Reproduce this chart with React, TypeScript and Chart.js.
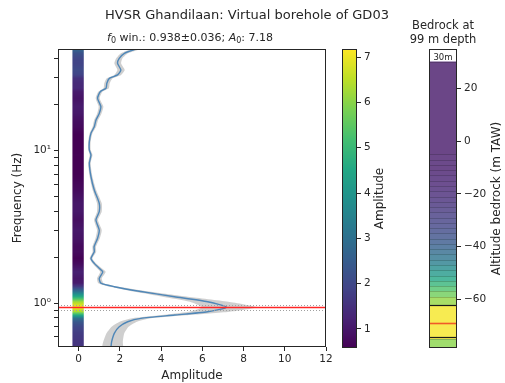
import { useEffect, useRef } from 'react';
import { Chart, registerables } from 'chart.js';

Chart.register(...registerables);

const FONT = "'DejaVu Sans', 'Liberation Sans', sans-serif";
const INK = '#262626';

// Mean HVSR curve (frequency ascending) and its multiplicative spread
const freqHz = [0.515, 0.557, 0.633, 0.699, 0.754, 0.794, 0.834, 0.877, 0.938, 1.02, 1.10, 1.19, 1.28, 1.35, 1.45, 1.60, 1.69, 1.82, 1.96, 2.17, 2.34, 2.66, 3.01, 3.50, 3.97, 4.51, 5.51, 6.73, 8.24, 9.34, 10.1, 11.4, 13.0, 14.3, 15.8, 17.5, 19.4, 22.0, 24.3, 25.6, 27.6, 29.7, 31.3, 33.7, 37.3, 40.2, 43.4, 46.3];
const ampMean = [1.57, 1.60, 1.73, 1.97, 2.38, 3.02, 4.65, 6.26, 7.18, 6.26, 4.65, 3.02, 1.73, 1.08, 1.00, 1.17, 1.00, 0.76, 0.60, 0.76, 0.75, 0.92, 1.00, 0.84, 1.00, 1.00, 0.76, 0.60, 0.52, 0.60, 0.52, 0.52, 0.60, 0.76, 0.84, 1.00, 1.08, 0.92, 1.05, 1.33, 1.37, 1.49, 1.89, 2.05, 1.89, 1.97, 2.22, 2.78];
const ampSigma = [1.38, 1.34, 1.28, 1.23, 1.19, 1.16, 1.15, 1.17, 1.20, 1.16, 1.14, 1.13, 1.13, 1.13, 1.12, 1.12, 1.12, 1.12, 1.12, 1.12, 1.12, 1.12, 1.12, 1.12, 1.12, 1.12, 1.12, 1.12, 1.12, 1.12, 1.12, 1.12, 1.12, 1.12, 1.12, 1.11, 1.11, 1.11, 1.10, 1.10, 1.10, 1.10, 1.09, 1.09, 1.09, 1.08, 1.08, 1.08];

const f0Win = 0.938;
const f0WinStd = 0.036;
const a0 = 7.18;

const freqMin = 0.515;
const freqMax = 46.3;
const freqTicks = [0.6, 0.7, 0.8, 0.9, 1, 2, 3, 4, 5, 6, 7, 8, 9, 10, 20, 30, 40];
const ampTicks = [0, 2, 4, 6, 8, 10, 12];
const colorTicks = [1, 2, 3, 4, 5, 6, 7];
const ampColorMin = 0.58;
const ampColorMax = 7.18;

// Virtual borehole: layer tops (m TAW) and the amplitude that colours each layer
const groundAlt = 30;
const bedrockDepth = 99;
const bedrockDepthMin = 92;
const bedrockDepthMax = 104.5;
const boreholeBottom = -78.5;
const altTop = 35;
const altTicks = [20, 0, -20, -40, -60];
const layerTop = [30, -5, -7, -9, -11, -13, -15, -17, -19, -21, -23, -25, -27, -29, -31, -33, -35, -37, -39, -41, -43, -45, -47, -49, -51, -53, -55, -57, -59, -62, -75];
const layerAmp = [1.0, 1.05, 1.1, 1.08, 1.12, 1.18, 1.22, 1.28, 1.35, 1.42, 1.5, 1.6, 1.7, 1.8, 1.9, 2.05, 2.2, 2.4, 2.6, 2.85, 3.1, 3.4, 3.75, 4.1, 4.5, 4.9, 5.3, 5.7, 6.1, 7.1, 6.0];

const VIRIDIS = [
  [68, 1, 84], [72, 36, 117], [65, 68, 135], [53, 95, 141], [42, 120, 142], [33, 145, 140],
  [34, 168, 132], [68, 191, 112], [122, 209, 81], [189, 223, 38], [253, 231, 37],
];

// viridis colour, optionally washed towards white (wash = opacity over a white page) and darkened
function viridis(t: number, wash = 1, shade = 0): string {
  const c = Math.min(1, Math.max(0, t)) * 10;
  const i = Math.min(9, Math.floor(c));
  const r = c - i;
  const a = VIRIDIS[i];
  const b = VIRIDIS[i + 1];
  const rgb = a.map((v, k) => {
    const base = v + (b[k] - v) * r;
    const washed = base * wash + 255 * (1 - wash);
    return Math.round(washed * (1 - shade));
  });
  return `rgb(${rgb[0]},${rgb[1]},${rgb[2]})`;
}

const ampColor = (amp: number, wash = 1, shade = 0) =>
  viridis((amp - ampColorMin) / (ampColorMax - ampColorMin), wash, shade);

function ampAt(f: number): number {
  if (f <= freqHz[0]) return ampMean[0];
  const n = freqHz.length;
  if (f >= freqHz[n - 1]) return ampMean[n - 1];
  const lf = Math.log10(f);
  for (let i = 0; i < n - 1; i++) {
    if (f <= freqHz[i + 1]) {
      const l0 = Math.log10(freqHz[i]);
      const l1 = Math.log10(freqHz[i + 1]);
      const r = (lf - l0) / (l1 - l0);
      return ampMean[i] + (ampMean[i + 1] - ampMean[i]) * r;
    }
  }
  return ampMean[n - 1];
}

const tickFont = { family: FONT, size: 10.5 };
const labelFont = { family: FONT, size: 12 };

function frame(chart: any, color = INK) {
  const { ctx, chartArea: a } = chart;
  ctx.save();
  ctx.strokeStyle = color;
  ctx.lineWidth = 1;
  ctx.strokeRect(Math.round(a.left) + 0.5, Math.round(a.top) + 0.5, Math.round(a.right - a.left) - 1, Math.round(a.bottom - a.top) - 1);
  ctx.restore();
}

function sideLabel(chart: any, text: string, x: number) {
  const { ctx, chartArea: a } = chart;
  ctx.save();
  ctx.translate(x, (a.top + a.bottom) / 2);
  ctx.rotate(-Math.PI / 2);
  ctx.fillStyle = INK;
  ctx.font = `12px ${FONT}`;
  ctx.textAlign = 'center';
  ctx.textBaseline = 'middle';
  ctx.fillText(text, 0, 0);
  ctx.restore();
}

// horizontal rule across the plot area at a y-axis value
function hLine(chart: any, value: number, color: string, dash: number[] = [], width = 1) {
  const { ctx, chartArea: a, scales } = chart;
  const y = Math.round(scales.y.getPixelForValue(value));
  ctx.save();
  ctx.fillStyle = color;
  if (dash.length === 0) {
    ctx.fillRect(a.left, y - width / 2 + 0.5, a.right - a.left, width);
  } else {
    const [on, off] = dash;
    for (let x = a.left; x < a.right; x += on + off) {
      ctx.fillRect(x, y, Math.min(on, a.right - x), 1);
    }
  }
  ctx.restore();
}

export default function App() {
  const mainRef = useRef<HTMLCanvasElement>(null);
  const cbarRef = useRef<HTMLCanvasElement>(null);
  const boreRef = useRef<HTMLCanvasElement>(null);

  useEffect(() => {
    Chart.defaults.font.family = FONT;
    Chart.defaults.color = INK;

    const curve = freqHz.map((f, i) => ({ x: ampMean[i], y: f }));
    const band = [
      ...freqHz.map((f, i) => ({ x: ampMean[i] * ampSigma[i], y: f })),
      ...freqHz.map((f, i) => ({ x: ampMean[i] / ampSigma[i], y: f })).reverse(),
    ];

    const hvsrPlugin = {
      id: 'hvsrDecor',
      beforeDatasetsDraw(chart: any) {
        const { ctx, chartArea: a, scales } = chart;
        const xl = scales.x.getPixelForValue(-0.3);
        const xr = scales.x.getPixelForValue(0.25);
        ctx.save();
        for (let py = Math.floor(a.top); py < a.bottom; py++) {
          const f = scales.y.getValueForPixel(py + 0.5);
          ctx.fillStyle = ampColor(ampAt(f));
          ctx.fillRect(xl, py, xr - xl, 1);
        }
        ctx.restore();
      },
      afterDraw(chart: any) {
        hLine(chart, f0Win - f0WinStd, '#a0a0a0', [1, 2]);
        hLine(chart, f0Win + f0WinStd, '#a0a0a0', [1, 2]);
        hLine(chart, f0Win, '#ff2626', [], 1.5);
        frame(chart);
      },
    };

    const main = new Chart(mainRef.current!, {
      type: 'scatter',
      data: {
        datasets: [
          {
            // mean curve, drawn on top
            data: curve,
            order: 0,
            showLine: true,
            fill: false,
            borderColor: '#4f87b8',
            borderWidth: 1.4,
            pointRadius: 0,
            tension: 0.2,
          },
          {
            // spread band
            data: band,
            order: 1,
            showLine: true,
            fill: 'shape',
            backgroundColor: 'rgba(160,160,160,0.5)',
            borderColor: 'rgba(0,0,0,0)',
            borderWidth: 0.01,
            pointRadius: 0,
            tension: 0.2,
          },
        ],
      },
      options: {
        responsive: false,
        animation: false,
        events: [],
        layout: { padding: { top: 49, right: 14, left: 0, bottom: 0 } },
        plugins: { legend: { display: false }, tooltip: { enabled: false }, title: { display: false } },
        scales: {
          x: {
            type: 'linear',
            min: -1,
            max: 12,
            afterBuildTicks: (s: any) => { s.ticks = ampTicks.map((v) => ({ value: v })); },
            afterFit: (s: any) => { s.height = 36; },
            grid: { display: true, drawOnChartArea: false, drawTicks: true, tickLength: 4, color: INK },
            border: { display: false },
            ticks: { color: INK, font: tickFont, padding: 2, maxRotation: 0 },
            title: { display: true, text: 'Amplitude', color: INK, font: labelFont, padding: { top: 0, bottom: 0 } },
          },
          y: {
            type: 'logarithmic',
            min: freqMin,
            max: freqMax,
            afterBuildTicks: (s: any) => { s.ticks = freqTicks.map((v) => ({ value: v })); },
            afterFit: (s: any) => { s.width = 58; },
            grid: { display: true, drawOnChartArea: false, drawTicks: true, tickLength: 4, color: INK },
            border: { display: false },
            ticks: {
              color: INK,
              font: tickFont,
              padding: 3,
              autoSkip: false,
              callback: (v: any) => (v === 1 ? '10\u2070' : v === 10 ? '10\u00b9' : ''),
            },
            title: { display: true, text: 'Frequency (Hz)', color: INK, font: labelFont, padding: { top: 11, bottom: 11 } },
          },
        },
      },
      plugins: [hvsrPlugin],
    } as any);

    const cbarPlugin = {
      id: 'colorbar',
      beforeDatasetsDraw(chart: any) {
        const { ctx, chartArea: a, scales } = chart;
        ctx.save();
        for (let py = Math.floor(a.top); py < a.bottom; py++) {
          ctx.fillStyle = ampColor(scales.y.getValueForPixel(py + 0.5));
          ctx.fillRect(a.left, py, a.right - a.left, 1);
        }
        ctx.restore();
      },
      afterDraw(chart: any) {
        frame(chart);
        sideLabel(chart, 'Amplitude', 50);
      },
    };

    const cbar = new Chart(cbarRef.current!, {
      type: 'scatter',
      data: { datasets: [] },
      options: {
        responsive: false,
        animation: false,
        events: [],
        layout: { padding: { top: 49, left: 12, bottom: 35, right: 0 } },
        plugins: { legend: { display: false }, tooltip: { enabled: false } },
        scales: {
          x: { display: false, min: 0, max: 1 },
          y: {
            type: 'linear',
            position: 'right',
            min: ampColorMin,
            max: ampColorMax,
            afterBuildTicks: (s: any) => { s.ticks = colorTicks.map((v) => ({ value: v })); },
            afterFit: (s: any) => { s.width = 43; },
            grid: { display: true, drawOnChartArea: false, drawTicks: true, tickLength: 4, color: INK },
            border: { display: false },
            ticks: { color: INK, font: tickFont, padding: 3 },
          },
        },
      },
      plugins: [cbarPlugin],
    } as any);

    const layers = layerTop.map((top, i) => {
      const bottom = i + 1 < layerTop.length ? layerTop[i + 1] : boreholeBottom;
      return {
        data: [[bottom, top]],
        backgroundColor: ampColor(layerAmp[i], 0.8),
        borderWidth: 0,
        inflateAmount: 0.6,
        grouped: false,
        barPercentage: 1,
        categoryPercentage: 1,
      };
    });

    const borePlugin = {
      id: 'borehole',
      afterDatasetsDraw(chart: any) {
        const { ctx, chartArea: a, scales } = chart;
        // thin edges between layers
        ctx.save();
        ctx.lineWidth = 1;
        layerTop.forEach((top, i) => {
          const y = Math.round(scales.y.getPixelForValue(top)) + 0.5;
          ctx.strokeStyle = ampColor(layerAmp[i], 0.8, 0.18);
          ctx.beginPath();
          ctx.moveTo(a.left, y);
          ctx.lineTo(a.right, y);
          ctx.stroke();
        });
        ctx.restore();
        hLine(chart, groundAlt - bedrockDepthMin, '#1a1a1a', [], 1.2);
        hLine(chart, groundAlt - bedrockDepthMax, '#1a1a1a', [], 1.2);
        hLine(chart, groundAlt - bedrockDepth, '#f05a28', [], 1.6);
        const yg = scales.y.getPixelForValue(groundAlt);
        ctx.save();
        ctx.fillStyle = INK;
        ctx.font = `8.5px ${FONT}`;
        ctx.textAlign = 'center';
        ctx.textBaseline = 'bottom';
        ctx.fillText(`${groundAlt}m`, (a.left + a.right) / 2, yg);
        ctx.restore();
      },
      afterDraw(chart: any) {
        frame(chart);
        sideLabel(chart, 'Altitude bedrock (m TAW)', 97);
      },
    };

    const bore = new Chart(boreRef.current!, {
      type: 'bar',
      data: { labels: [''], datasets: layers },
      options: {
        responsive: false,
        animation: false,
        events: [],
        layout: { padding: { top: 49, left: 29, bottom: 35, right: 0 } },
        plugins: { legend: { display: false }, tooltip: { enabled: false } },
        scales: {
          x: { display: false },
          y: {
            type: 'linear',
            position: 'right',
            min: boreholeBottom,
            max: altTop,
            afterBuildTicks: (s: any) => { s.ticks = altTicks.map((v) => ({ value: v })); },
            afterFit: (s: any) => { s.width = 48; },
            grid: { display: true, drawOnChartArea: false, drawTicks: true, tickLength: 4, color: INK },
            border: { display: false },
            ticks: {
              color: INK,
              font: tickFont,
              padding: 3,
              callback: (v: any) => (v < 0 ? '\u2212' + Math.abs(v) : String(v)),
            },
          },
        },
      },
      plugins: [borePlugin],
    } as any);

    return () => {
      main.destroy();
      cbar.destroy();
      bore.destroy();
    };
  }, []);

  const sub = { fontSize: '8px', verticalAlign: '-2px' } as const;

  return (
    <div style={{ position: 'fixed', left: 0, top: 0, width: 505, height: 383, background: '#fff', fontFamily: FONT, color: INK }}>
      <canvas ref={mainRef} width={340} height={383} style={{ position: 'absolute', left: 0, top: 0 }} />
      <canvas ref={cbarRef} width={70} height={383} style={{ position: 'absolute', left: 330, top: 0 }} />
      <canvas ref={boreRef} width={105} height={383} style={{ position: 'absolute', left: 400, top: 0 }} />
      <div style={{ position: 'absolute', left: 247, top: 7, transform: 'translateX(-50%)', whiteSpace: 'nowrap', fontSize: 13, lineHeight: '16px' }}>
        HVSR Ghandilaan: Virtual borehole of GD03
      </div>
      <div style={{ position: 'absolute', left: 190, top: 31, transform: 'translateX(-50%)', whiteSpace: 'nowrap', fontSize: 11, lineHeight: '14px' }}>
        <i>f</i><span style={sub}>0</span> win.: {f0Win.toFixed(3)}±{f0WinStd.toFixed(3)}; <i>A</i><span style={sub}>0</span>: {a0.toFixed(2)}
      </div>
      <div style={{ position: 'absolute', left: 443, top: 18, transform: 'translateX(-50%)', whiteSpace: 'nowrap', fontSize: 11.5, lineHeight: '14px', textAlign: 'center' }}>
        Bedrock at<br />{bedrockDepth} m depth
      </div>
    </div>
  );
}
